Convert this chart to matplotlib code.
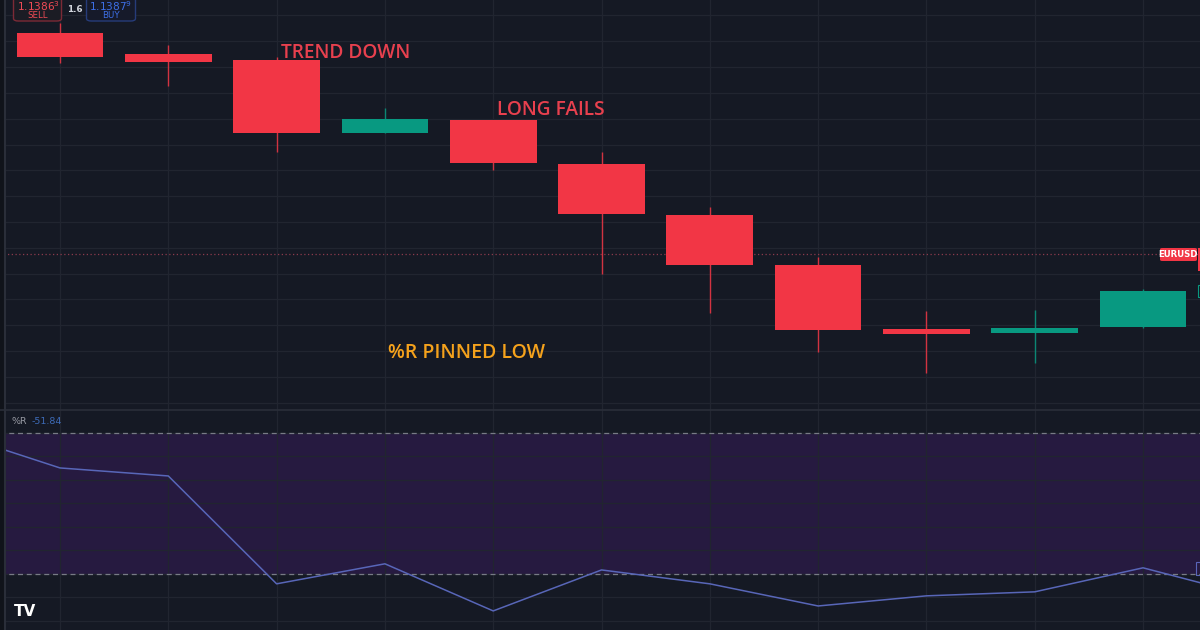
import matplotlib
matplotlib.use("Agg")
import matplotlib.pyplot as plt
from matplotlib.patches import FancyBboxPatch, Rectangle
import numpy as np

# ---- data -------------------------------------------------------------
opens  = [1.14291, 1.14251, 1.14239, 1.14098, 1.14123, 1.14037, 1.13939, 1.13842, 1.13718, 1.13710, 1.13722]
highs  = [1.14311, 1.14268, 1.14245, 1.14146, 1.14123, 1.14061, 1.13954, 1.13857, 1.13753, 1.13755, 1.13795]
lows   = [1.14233, 1.14189, 1.14061, 1.14098, 1.14026, 1.13824, 1.13749, 1.13673, 1.13632, 1.13652, 1.13720]
closes = [1.14245, 1.14235, 1.14098, 1.14125, 1.14039, 1.13941, 1.13842, 1.13716, 1.13708, 1.13720, 1.13791]
last_price = 1.13863

# Williams %R, one bar before and one after the visible window
wr_index = list(range(-1, 12))
wr_values = [-20.0, -35.0, -38.4, -84.2, -75.7, -95.7, -78.3, -84.2, -93.6, -89.3, -87.6, -77.4, -89.4]
wr_upper, wr_lower = -20, -80

annotations = [
    ("TREND DOWN", 281, 53, "#e8404e", 13.8),
    ("LONG FAILS", 497, 110, "#e8404e", 13.8),
    ("%R PINNED LOW", 388, 353, "#f5a21c", 14.0),
]

# ---- style ------------------------------------------------------------
BG = "#151924"
GRID = "#212530"
UP = "#089981"
DOWN = "#f23645"
W, H = 1200, 630
PANE_SPLIT = 410


def fx(px):
    return px / W


def fy(py):
    return 1 - py / H


fig = plt.figure(figsize=(12, 6.3), dpi=100, facecolor=BG)
ax = fig.add_axes([0, fy(PANE_SPLIT), 1, PANE_SPLIT / H])
ax2 = fig.add_axes([0, 0, 1, (H - PANE_SPLIT) / H])

x = np.arange(len(opens))
xlim = (-0.554, 10.526)

for a in (ax, ax2):
    a.set_facecolor(BG)
    a.set_xlim(*xlim)
    a.set_xticks(x)
    a.tick_params(length=0, labelbottom=False, labelleft=False)
    a.grid(True, color=GRID, linewidth=0.9)
    a.set_axisbelow(True)
    for s in a.spines.values():
        s.set_visible(False)

# ---- price pane -------------------------------------------------------
ax.set_ylim(1.13561, 1.14355)
ax.set_yticks(np.arange(1.13575, 1.1436, 0.0005))

colors = [UP if c >= o else DOWN for o, c in zip(opens, closes)]
bottoms = [min(o, c) for o, c in zip(opens, closes)]
heights = [abs(c - o) for o, c in zip(opens, closes)]
ax.vlines(x, lows, highs, colors=colors, linewidth=1.0, alpha=0.85, zorder=2)
ax.bar(x, heights, bottom=bottoms, width=0.8, color=colors, zorder=3)

ax.axhline(last_price, color="#8c3a4c", linewidth=0.9, linestyle=(0, (1, 2)), zorder=1)

for text, px, py, col, size in annotations:
    fig.text(fx(px), fy(py), text, color=col, fontsize=size, family="Open Sans",
             weight="semibold", ha="left", va="center")

# EURUSD label on the price line
fig.patches.append(FancyBboxPatch((fx(1160), fy(261)), fx(37), 13 / H, transform=fig.transFigure,
                                  boxstyle="round,pad=0,rounding_size=0.002", fc=DOWN, ec="none"))
fig.text(fx(1178), fy(254.5), "EURUSD", color="white", fontsize=6.2, weight="bold",
         ha="center", va="center")
# cut-off price-scale labels at the right edge
fig.patches.append(Rectangle((fx(1197.5), fy(271)), fx(3), 23 / H, transform=fig.transFigure,
                             fc=DOWN, ec="none"))
fig.patches.append(Rectangle((fx(1197.5), fy(297)), fx(4), 12 / H, transform=fig.transFigure,
                             fc="none", ec=UP, lw=0.8))

# sell / buy widget top-left
fig.patches.append(FancyBboxPatch((fx(13.5), fy(21)), fx(48), 28 / H, transform=fig.transFigure,
                                  boxstyle="round,pad=0,rounding_size=0.004", fc="#1b1c24",
                                  ec="#7c2a36", lw=1.0))
fig.patches.append(FancyBboxPatch((fx(86.5), fy(21)), fx(49), 28 / H, transform=fig.transFigure,
                                  boxstyle="round,pad=0,rounding_size=0.004", fc="#161a2a",
                                  ec="#263c7a", lw=1.0))
fig.text(fx(38), fy(6), r"1.1386$^{3}$", color="#f04a55", fontsize=7.6, ha="center", va="center")
fig.text(fx(38), fy(15.5), "SELL", color="#f04a55", fontsize=6.2, ha="center", va="center")
fig.text(fx(75), fy(9.5), "1.6", color="#d1d4dc", fontsize=6.3, weight="bold", ha="center", va="center")
fig.text(fx(111), fy(6), r"1.1387$^{9}$", color="#3d6fe6", fontsize=7.6, ha="center", va="center")
fig.text(fx(111), fy(15.5), "BUY", color="#3d6fe6", fontsize=6.2, ha="center", va="center")

# ---- %R pane ------------------------------------------------------------
ax2.set_ylim(-103.8, -10.4)
ax2.set_yticks(np.arange(-100, -10, 10))
ax2.axhspan(wr_lower, wr_upper, color="#261a40", zorder=0.5, lw=0)
for lvl in (wr_upper, wr_lower):
    ax2.axhline(lvl, color="#787b86", linewidth=0.9, linestyle=(0, (4, 3)), zorder=1)
ax2.plot(wr_index, wr_values, color="#5866b8", linewidth=1.1, zorder=3)

fig.text(fx(12), fy(422), "%R", color="#9598a1", fontsize=6.8, ha="left", va="center")
fig.text(fx(32), fy(422), "-51.84", color="#3d6bb8", fontsize=6.8, ha="left", va="center")
fig.text(fx(14), fy(612), "TV", color="white", fontsize=11, weight="heavy", ha="left", va="center")
fig.patches.append(Rectangle((fx(1196), fy(575)), fx(5), 13 / H, transform=fig.transFigure,
                             fc="none", ec="#5a64b8", lw=0.8))

# pane separator and left border
fig.add_artist(plt.Line2D([0, 1], [fy(PANE_SPLIT), fy(PANE_SPLIT)], transform=fig.transFigure,
                          color="#2a2e39", linewidth=1.2))
fig.add_artist(plt.Line2D([fx(5), fx(5)], [0, 1], transform=fig.transFigure,
                          color="#2a2e39", linewidth=1.5))
fig.patches.append(Rectangle((0, 0), fx(4.5), 1, transform=fig.transFigure, fc="#10131a", ec="none"))

fig.savefig("out.png", dpi=100, facecolor=BG)
